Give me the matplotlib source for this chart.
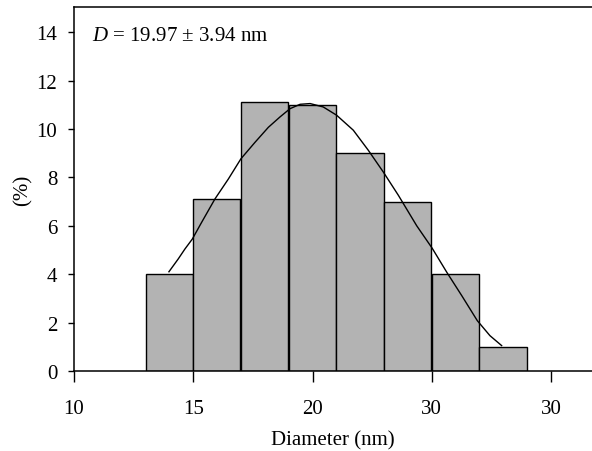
import matplotlib
matplotlib.use("Agg")
import matplotlib.pyplot as plt

plt.rcParams['font.family'] = ['Liberation Serif', 'DejaVu Serif']
plt.rcParams['mathtext.fontset'] = 'custom'
plt.rcParams['mathtext.rm'] = 'Liberation Serif'
plt.rcParams['mathtext.it'] = 'Liberation Serif:italic'

# Histogram bins (nm) and percentages
bin_left = [13, 15, 17, 19, 21, 23, 25, 27]
bin_width = 1.98
percent = [4.0, 7.1, 11.1, 11.0, 9.0, 7.0, 4.0, 1.0]

# Fitted curve
curve_x = [13.98, 14.37, 14.65, 14.96, 15.35, 15.91, 16.47, 17.00, 17.59, 18.15,
           18.64, 19.06, 19.48, 19.90, 20.45, 21.01, 21.71, 22.34, 22.97, 23.60,
           24.37, 25.02, 25.63, 26.26, 26.91, 27.44, 27.93]
curve_y = [4.10, 4.63, 5.04, 5.45, 6.14, 7.11, 7.93, 8.77, 9.45, 10.07,
           10.50, 10.84, 11.02, 11.05, 10.91, 10.57, 9.95, 9.12, 8.22, 7.26,
           6.00, 5.07, 4.08, 3.11, 2.08, 1.46, 1.05]

xticks = [10, 15, 20, 25, 30]
xticklabels = ['10', '15', '20', '30', '30']
yticks = [0, 2, 4, 6, 8, 10, 12, 14]

fig = plt.figure(figsize=(5.92, 4.52), dpi=100)
ax = fig.add_axes([74/592, 1 - 372/452, 1 - 74/592, (372 - 8)/452])

ax.bar(bin_left, percent, width=bin_width, align='edge', color='#b3b3b3',
       edgecolor='black', linewidth=1.0, zorder=2)
ax.plot(curve_x, curve_y, color='black', linewidth=1.0, zorder=3,
        solid_joinstyle='round')

ax.set_xlim(10, 10 + (592 - 74)/23.85)
ax.set_ylim(0, 15.04)
ax.set_xticks(xticks)
ax.set_xticklabels(xticklabels)
ax.set_yticks(yticks)

for s in ['left', 'bottom', 'top']:
    ax.spines[s].set_linewidth(1.1)
ax.spines['right'].set_visible(False)

ax.tick_params(axis='x', direction='out', length=8, width=1.0, pad=12, labelsize=15)
ax.tick_params(axis='y', direction='out', length=4, width=1.0, pad=8, labelsize=15)

ax.set_xlabel('Diameter (nm)', fontsize=15, labelpad=9)
ax.set_ylabel('(%)', fontsize=15, labelpad=3)

ax.text(0.035, 0.948, r'$D$ = 19.97 ± 3.94 nm', transform=ax.transAxes,
        fontsize=15, ha='left', va='top')

fig.savefig('out.png', dpi=100)
